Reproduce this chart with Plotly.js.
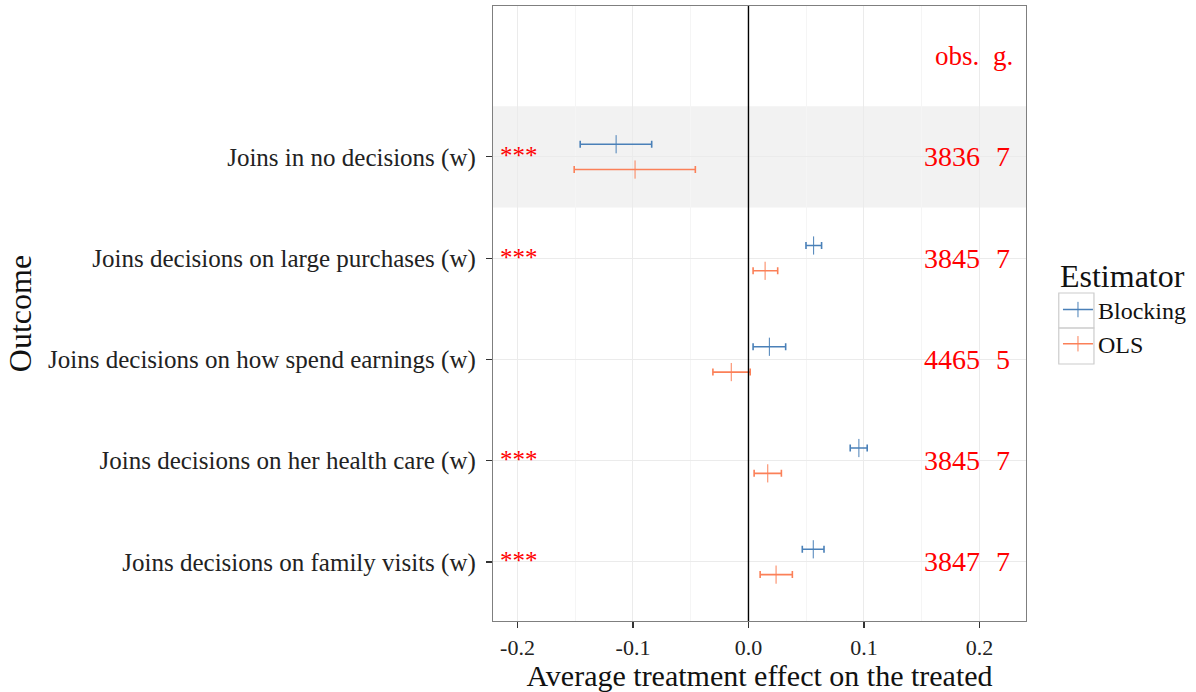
<!DOCTYPE html>
<html>
<head>
<meta charset="utf-8">
<script src="https://cdn.plot.ly/plotly-3.0.1.min.js"></script>
<style>html,body{margin:0;padding:0;background:#fff;}#chart{width:1196px;height:692px;}</style>
</head>
<body>
<div id="chart"></div>
<script>
// Outcomes, bottom to top
var categories = [
  "Joins decisions on family visits (w)",
  "Joins decisions on her health care (w)",
  "Joins decisions on how spend earnings (w)",
  "Joins decisions on large purchases (w)",
  "Joins in no decisions (w)"
];
var blockEst = [0.0561, 0.0956, 0.0181, 0.0564, -0.1146];
var blockLo  = [0.0466, 0.0881, 0.0040, 0.0498, -0.1457];
var blockHi  = [0.0654, 0.1028, 0.0322, 0.0633, -0.0838];
var olsEst   = [0.0239, 0.0167, -0.0149, 0.0144, -0.0982];
var olsLo    = [0.0101, 0.0049, -0.0308, 0.0040, -0.1509];
var olsHi    = [0.0380, 0.0285, 0.0015, 0.0253, -0.0460];
var obsN     = [3847, 3845, 4465, 3845, 3836];
var groupsN  = [7, 7, 5, 7, 7];
var stars    = ["***", "***", "", "***", "***"];
var highlighted = [false, false, false, false, true];
var xTicks = [-0.2, -0.1, 0.0, 0.1, 0.2];
var xTickText = ["-0.2", "-0.1", "0.0", "0.1", "0.2"];

var FONT = "Liberation Serif, Times New Roman, serif";
var BLUE = "#4a80b8";
var ORANGE = "#fb8058";
var OFF = 0.125;

var idx = categories.map(function(_, i){ return i; });

function errTrace(est, lo, hi, off, color, name) {
  return {
    type: "scatter", mode: "markers", name: name, showlegend: false,
    x: est,
    y: idx.map(function(i){ return i + off; }),
    marker: {symbol: "line-ns-open", size: 13, color: color, line: {color: color, width: 1}},
    error_x: {
      type: "data", symmetric: false,
      array: est.map(function(v, i){ return hi[i] - v; }),
      arrayminus: est.map(function(v, i){ return v - lo[i]; }),
      color: color, thickness: 1.6, width: 3.5
    },
    hoverinfo: "x+y"
  };
}

var traces = [
  errTrace(blockEst, blockLo, blockHi, OFF, BLUE, "Blocking"),
  errTrace(olsEst, olsLo, olsHi, -OFF, ORANGE, "OLS"),
  {type: "scatter", mode: "lines+markers", name: "Blocking", x: [null], y: [null],
   line: {color: BLUE, width: 1.4}, marker: {symbol: "line-ns-open", size: 11, color: BLUE, line: {color: BLUE, width: 1}}},
  {type: "scatter", mode: "lines+markers", name: "OLS", x: [null], y: [null],
   line: {color: ORANGE, width: 1.4}, marker: {symbol: "line-ns-open", size: 11, color: ORANGE, line: {color: ORANGE, width: 1}}}
];

var shapes = [];
idx.forEach(function(i){
  if (highlighted[i]) {
    shapes.push({type: "rect", xref: "paper", yref: "y", x0: 0, x1: 1, y0: i - 0.5, y1: i + 0.5,
      fillcolor: "#f2f2f2", line: {width: 0}, layer: "below"});
  }
});
shapes.push({type: "line", xref: "x", yref: "paper", x0: 0, x1: 0, y0: 0, y1: 1,
  line: {color: "#000000", width: 1.4}, layer: "above"});
// legend key boxes
shapes.push({type: "rect", xref: "paper", yref: "paper", x0: 1.0615, x1: 1.1275, y0: 0.5333, y1: 0.4764,
  line: {color: "#cccccc", width: 1.2}, fillcolor: "rgba(0,0,0,0)"});
shapes.push({type: "rect", xref: "paper", yref: "paper", x0: 1.0615, x1: 1.1275, y0: 0.4764, y1: 0.4179,
  line: {color: "#cccccc", width: 1.2}, fillcolor: "rgba(0,0,0,0)"});

var annotations = [];
var HEADER = categories.length;
annotations.push({x: 0.2, y: HEADER, xref: "x", yref: "y", text: "obs.", showarrow: false, xshift: 2,
  xanchor: "right", yanchor: "middle", font: {family: FONT, size: 27, color: "#ff0000"}});
annotations.push({x: 0.22, y: HEADER, xref: "x", yref: "y", text: "g.", showarrow: false,
  xanchor: "center", yanchor: "middle", font: {family: FONT, size: 27, color: "#ff0000"}});
idx.forEach(function(i){
  annotations.push({x: 0.2, y: i, xref: "x", yref: "y", text: String(obsN[i]), showarrow: false, xshift: 3,
    xanchor: "right", yanchor: "middle", font: {family: FONT, size: 28, color: "#ff0000"}});
  annotations.push({x: 0.22, y: i, xref: "x", yref: "y", text: String(groupsN[i]), showarrow: false,
    xanchor: "center", yanchor: "middle", font: {family: FONT, size: 28, color: "#ff0000"}});
  if (stars[i]) {
    annotations.push({x: -0.217, y: i + 0.01, xref: "x", yref: "y", text: stars[i], showarrow: false,
      xanchor: "left", yanchor: "middle", font: {family: FONT, size: 25, color: "#ff0000"}});
  }
});

var layout = {
  width: 1196, height: 692,
  margin: {l: 493, r: 169, t: 6, b: 71, pad: 0},
  paper_bgcolor: "#ffffff", plot_bgcolor: "#ffffff",
  font: {family: FONT, size: 20, color: "#222222"},
  showlegend: true,
  legend: {
    x: 1.058, y: 0.61, xanchor: "left", yanchor: "top",
    title: {text: "Estimator", font: {family: FONT, size: 32, color: "#111111"}},
    font: {family: FONT, size: 24, color: "#111111"},
    bgcolor: "rgba(0,0,0,0)", borderwidth: 0,
    itemwidth: 30, tracegroupgap: 0
  },
  xaxis: {
    range: [-0.2212, 0.2403],
    tickvals: xTicks, ticktext: xTickText,
    ticks: "outside", ticklen: 6, tickcolor: "#333333", tickwidth: 1.2,
    tickfont: {family: FONT, size: 22, color: "#222222"},
    showgrid: true, gridcolor: "#ebebeb", gridwidth: 1,
    minor: {dtick: 0.05, showgrid: true, gridcolor: "#f5f5f5", gridwidth: 1},
    zeroline: false,
    showline: true, mirror: true, linecolor: "#7f7f7f", linewidth: 1.2,
    title: {text: "Average treatment effect on the treated", font: {family: FONT, size: 30, color: "#111111"}, standoff: 4}
  },
  yaxis: {
    range: [-0.583, 5.49],
    tickvals: idx, ticktext: categories,
    ticks: "outside", ticklen: 6, tickcolor: "#333333", tickwidth: 1.2,
    ticklabelstandoff: 5,
    tickfont: {family: FONT, size: 25, color: "#222222"},
    showgrid: true, gridcolor: "#ebebeb", gridwidth: 1,
    zeroline: false,
    showline: true, mirror: true, linecolor: "#7f7f7f", linewidth: 1.2,
    title: {text: "Outcome", font: {family: FONT, size: 32, color: "#111111"}, standoff: 6}
  },
  shapes: shapes,
  annotations: annotations
};

Plotly.newPlot("chart", traces, layout, {displayModeBar: false, staticPlot: true});
</script>
</body>
</html>
